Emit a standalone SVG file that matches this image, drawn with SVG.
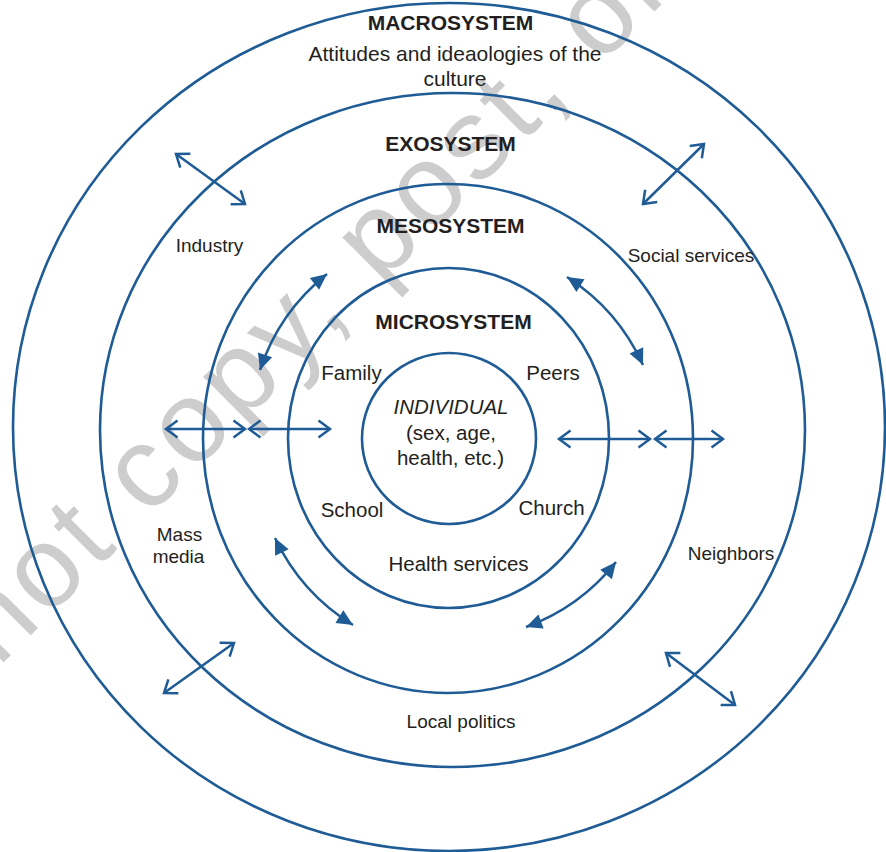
<svg xmlns="http://www.w3.org/2000/svg" width="886" height="852" viewBox="0 0 886 852">
<defs>
<style>
.ring{fill:none;stroke:#1f5b95;stroke-width:2.6}
.conn{fill:none;stroke:#1f5b95;stroke-width:2.5}
.open{marker-start:url(#vhead);marker-end:url(#vhead)}
.solid{marker-start:url(#thead);marker-end:url(#thead)}
text{font-family:"Liberation Sans",Arial,Helvetica,sans-serif;fill:#231f20;text-anchor:middle}
.hd{font-weight:bold;font-size:21px}
.in{font-size:20.5px}
.out{font-size:19px}
.top{font-size:21px}
.wm{font-size:115px;fill:#cdcdcd;text-anchor:start;letter-spacing:5px}
</style>
<marker id="vhead" markerUnits="userSpaceOnUse" markerWidth="20" markerHeight="20" refX="11.5" refY="8.6" orient="auto-start-reverse" overflow="visible">
<path d="M0,0 L11.5,8.6 L0,17.2" fill="none" stroke="#1f5b95" stroke-width="2.5"/>
</marker>
<marker id="thead" markerUnits="userSpaceOnUse" markerWidth="20" markerHeight="20" refX="16" refY="7.5" orient="auto-start-reverse" overflow="visible">
<path d="M0,0 L16,7.5 L0,15 z" fill="#1f5b95"/>
</marker>
</defs>
<rect width="886" height="852" fill="#ffffff"/>
<g id="watermark">
<text class="wm" transform="translate(-2,668) rotate(-45)">not copy, post, or</text>
</g>
<g id="macrosystem">
<ellipse class="ring" cx="449" cy="427" rx="436" ry="424"/>
<text class="hd" x="450.5" y="30">MACROSYSTEM</text>
<text class="top" x="455" y="61">Attitudes and ideaologies of the</text>
<text class="top" x="455" y="86">culture</text>
</g>
<g id="exosystem">
<ellipse class="ring" cx="452.5" cy="430" rx="352.5" ry="337"/>
<text class="hd" x="450.5" y="151">EXOSYSTEM</text>
<text class="out" x="209.5" y="252">Industry</text>
<text class="out" x="691" y="262">Social services</text>
<text class="out" x="179.5" y="541">Mass</text>
<text class="out" x="178.5" y="563">media</text>
<text class="out" x="731" y="560">Neighbors</text>
<text class="out" x="461" y="728">Local politics</text>
</g>
<g id="mesosystem">
<ellipse class="ring" cx="448" cy="438.5" rx="245" ry="254.5"/>
<text class="hd" x="450.5" y="233">MESOSYSTEM</text>
</g>
<g id="microsystem">
<ellipse class="ring" cx="448.5" cy="438" rx="160.5" ry="170"/>
<text class="hd" x="453.5" y="329">MICROSYSTEM</text>
<text class="in" x="351.5" y="380">Family</text>
<text class="in" x="553" y="380">Peers</text>
<text class="in" x="352" y="517">School</text>
<text class="in" x="551.5" y="515">Church</text>
<text class="in" x="458.5" y="571">Health services</text>
</g>
<g id="individual">
<ellipse class="ring" cx="449" cy="438.5" rx="87" ry="85.5"/>
<text class="in" x="451" y="414" font-style="italic">INDIVIDUAL</text>
<text class="in" x="451" y="440">(sex, age,</text>
<text class="in" x="450.5" y="465">health, etc.)</text>
</g>
<g id="connectors">
<line class="conn open" x1="176" y1="154" x2="245" y2="204"/>
<line class="conn open" x1="704" y1="144" x2="643" y2="204"/>
<line class="conn open" x1="234" y1="643" x2="164" y2="693"/>
<line class="conn open" x1="666" y1="653" x2="735" y2="705"/>
<line class="conn open" x1="166" y1="429" x2="245" y2="429"/>
<line class="conn open" x1="249" y1="429" x2="330" y2="429"/>
<line class="conn open" x1="559" y1="439" x2="650" y2="439"/>
<line class="conn open" x1="655" y1="439" x2="723" y2="439"/>
<path class="conn solid" d="M327,274 A205,205 0 0 0 260,370"/>
<path class="conn solid" d="M567,277 A205,205 0 0 1 643,365"/>
<path class="conn solid" d="M275,538 A205,205 0 0 0 353,625"/>
<path class="conn solid" d="M616,562 A205,205 0 0 1 526,627"/>
</g>
</svg>
